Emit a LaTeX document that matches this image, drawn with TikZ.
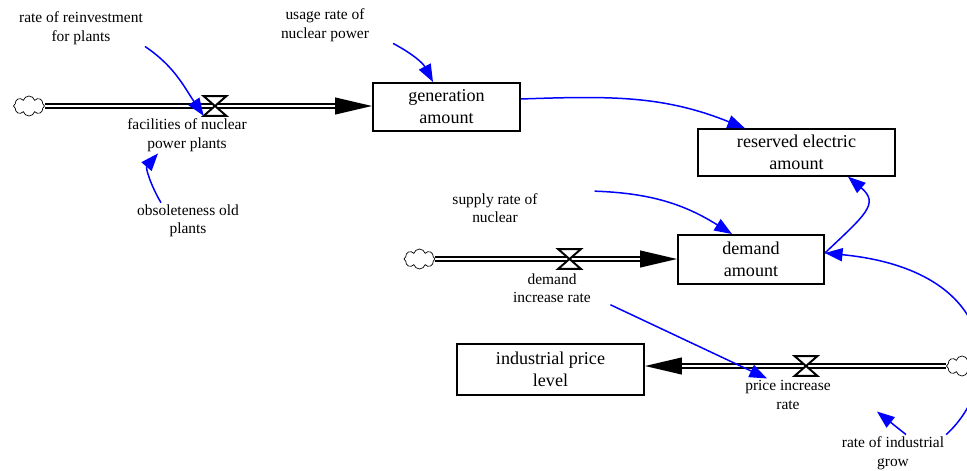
\documentclass[tikz,border=0pt]{standalone}
\usepackage{fontspec}
\setmainfont{Liberation Serif}
\usetikzlibrary{arrows, arrows.meta, shapes.symbols}

\begin{document}
\begin{tikzpicture}[x=0.02cm, y=-0.02cm, >={Triangle[length=10pt,width=7.5pt]}]
    \tikzstyle{stock}=[draw=black, line width=1.1pt, fill=white, align=center, font=\fontsize{10.3}{12.5}\selectfont]
    \tikzstyle{aux}=[align=center, inner sep=1pt, font=\fontsize{8.8}{10.5}\selectfont]
    \tikzstyle{valve}=[minimum width=0.44cm, minimum height=0.38cm, inner sep=0pt]
    \tikzstyle{source}=[cloud, cloud puffs=8, cloud ignores aspect, draw=black, thin, fill=white, minimum width=0.62cm, minimum height=0.4cm, inner sep=0pt]
    \tikzstyle{pipe}=[-{Triangle[length=21pt,width=9.5pt]}, draw=black, line width=1.1pt, double=white, double distance=1.7pt]
    \tikzstyle{infl}=[->, draw=blue, line width=0.85pt]

    \useasboundingbox (0,0) rectangle (967,470);

    \node[stock, minimum width=2.94cm, minimum height=0.96cm] at (446.5,107) (gen) {generation\\amount};
    \node[stock, minimum width=3.94cm, minimum height=0.78cm] at (796.5,152.5) (res) {reserved electric\\amount};
    \node[stock, minimum width=2.92cm, minimum height=0.98cm] at (751,259.5) (dem) {demand\\amount};
    \node[stock, minimum width=3.74cm, minimum height=1.02cm] at (550.5,369.5) (ipl) {industrial price\\level};

    \node[aux] at (81,28) (reinv) {rate of reinvestment\\for plants};
    \node[aux] at (325,25) (usage) {usage rate of\\nuclear power};
    \node[aux] at (187,135) (fac) {facilities of nuclear\\power plants};
    \node[aux] at (188,221) (obs) {obsoleteness old\\plants};
    \node[aux] at (495,208) (supply) {supply rate of\\nuclear};
    \node[aux] at (552,288) (dir) {demand\\increase rate};
    \node[aux] at (788,395) (pir) {price increase\\rate};
    \node[aux] at (893,453) (growth) {rate of industrial\\grow};

    % long loop behind the right-hand cloud
    \draw[infl] (growth.north east) .. controls +(58,-53) and +(175,17) .. ([yshift=0.13cm]dem.east);

    \node[source] at (29,106) (c1) {};
    \node[source] at (419.5,259) (c2) {};
    \node[source] at (962,366) (c3) {};

    \draw[pipe] (c1.east) -- (c1.east -| gen.west);
    \draw[pipe] (c2.east) -- (c2.east -| dem.west);
    \draw[pipe] (c3.west) -- (c3.west -| ipl.east);

    \node[valve] at (215,106) (v1) {};
    \node[valve] at (569.5,259) (v2) {};
    \node[valve] at (806,366) (v3) {};
    \foreach \v in {v1,v2,v3}
        \draw[fill=white, line width=1.1pt] (\v.north west) -- (\v.north east) -- (\v.south west) -- (\v.south east) -- cycle;

    \path
    (reinv.south east) edge[infl, out=-34, in=124] (v1.south west)
    ([xshift=0.44cm]usage.south east) edge[infl, out=-28, in=118] ([xshift=-0.27cm]gen.north)
    ([yshift=0.16cm]gen.east) edge[infl, out=2, in=158] ([xshift=-1.03cm]res.north)
    ([xshift=-0.54cm]obs.north) edge[infl, out=121, in=-131] ([xshift=-0.58cm]fac.south)
    ([xshift=1.1cm]supply.north east) edge[infl, out=-2, in=148] ([xshift=-0.38cm]dem.north)
    ([xshift=0.35cm]dir.south east) edge[infl] ([xshift=-0.42cm]pir.north)
    ([xshift=0.26cm]growth.north) edge[infl] ([xshift=1.78cm]pir.south);
    \draw[infl] ([yshift=0.13cm]dem.east) .. controls +(40,-38) and +(32,27) .. ([xshift=1.03cm]res.south);
\end{tikzpicture}
\end{document}
